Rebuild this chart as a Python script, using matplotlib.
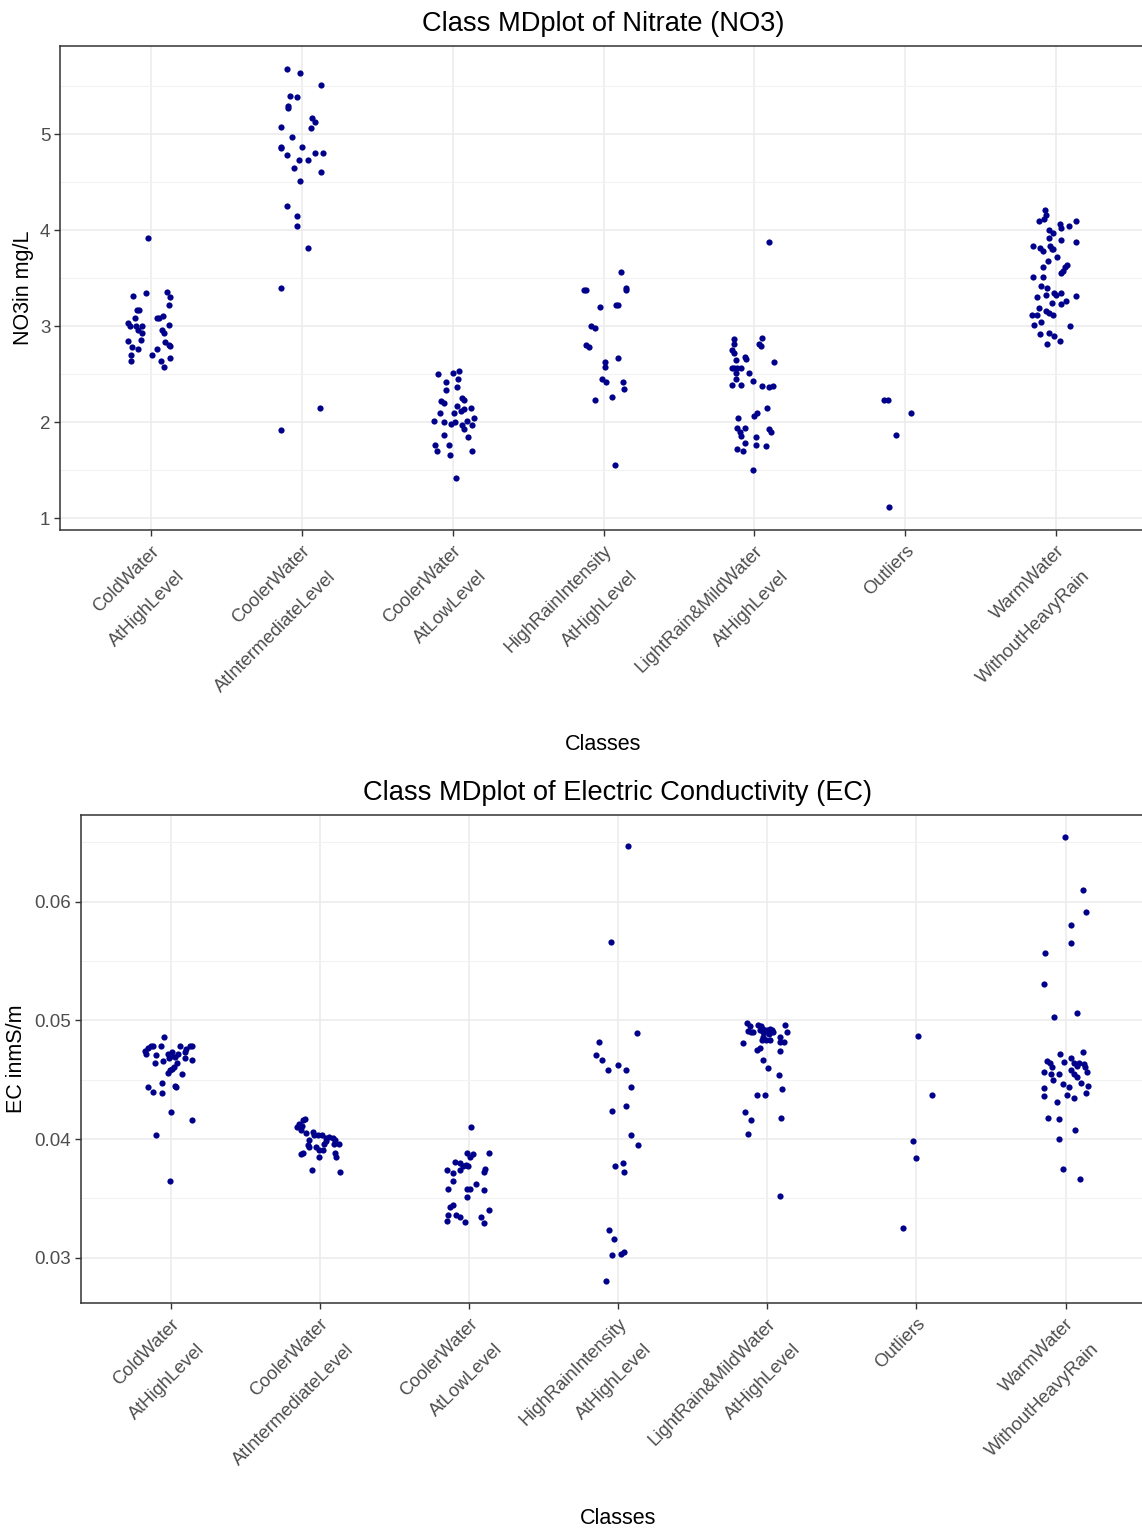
import matplotlib
matplotlib.use("Agg")
from matplotlib import pyplot as plt
from matplotlib.ticker import MultipleLocator

plt.rcParams["font.family"] = ["Liberation Sans", "DejaVu Sans"]

# Class names (x axis, both panels)
classes = ["ColdWater\nAtHighLevel", "CoolerWater\nAtIntermediateLevel",
           "CoolerWater\nAtLowLevel", "HighRainIntensity\nAtHighLevel",
           "LightRain&MildWater\nAtHighLevel", "Outliers",
           "WarmWater\nWithoutHeavyRain"]

# ---- Nitrate (NO3) in mg/L, with horizontal jitter ----
no3_cold_high = [3.92, 3.31, 3.34, 3.35, 3.30, 3.22, 3.17, 3.17, 3.08, 3.08, 3.08, 3.10,
                 3.03, 3.00, 3.00, 3.00, 2.96, 2.93, 2.96, 2.93, 3.01, 2.84, 2.85, 2.78,
                 2.76, 2.76, 2.83, 2.80, 2.79, 2.70, 2.70, 2.64, 2.64, 2.67, 2.57]
no3_cold_high_jit = [-0.02, -0.117, -0.03, 0.11, 0.13, 0.12, -0.09, -0.08, -0.106, 0.04, 0.053, 0.08,
                     -0.15, -0.137, -0.097, -0.06, -0.084, -0.058, 0.075, 0.088, 0.12, -0.15, -0.066, -0.126,
                     -0.086, 0.04, 0.097, 0.12, 0.13, -0.128, 0.011, -0.128, 0.07, 0.13, 0.09]

no3_cooler_mid = [5.68, 5.64, 5.51, 5.40, 5.39, 5.29, 5.27, 5.17, 5.13, 5.06, 5.07, 4.97,
                  4.87, 4.85, 4.87, 4.78, 4.73, 4.73, 4.80, 4.80, 4.65, 4.60, 4.51, 4.25,
                  4.15, 4.04, 3.81, 3.40, 2.15, 1.92]
no3_cooler_mid_jit = [-0.097, -0.009, 0.132, -0.079, -0.029, -0.088, -0.088, 0.071, 0.09, 0.062, -0.139, -0.06,
                      -0.139, -0.139, 0.002, -0.097, -0.02, 0.04, 0.09, 0.141, -0.048, 0.132, -0.009, -0.097,
                      -0.029, -0.029, 0.04, -0.139, 0.121, -0.139]

no3_cooler_low = [2.50, 2.51, 2.42, 2.33, 2.45, 2.36, 2.22, 2.20, 2.17, 2.09, 2.09, 2.01,
                  2.00, 1.98, 2.00, 1.86, 1.76, 1.70, 1.76, 1.66, 1.42, 2.53, 2.25, 2.23,
                  2.14, 2.15, 2.11, 2.01, 2.04, 1.97, 1.93, 1.97, 1.84, 1.70]
no3_cooler_low_jit = [-0.095, 0.005, -0.046, -0.046, 0.035, 0.031, -0.075, -0.055, 0.028, -0.086, 0.013, -0.126,
                      -0.055, -0.011, 0.015, -0.055, -0.114, -0.106, -0.026, -0.015, 0.022, 0.046, 0.066, 0.079,
                      0.073, 0.124, 0.057, 0.095, 0.144, 0.064, 0.079, 0.131, 0.101, 0.132]

no3_rain_high = [3.37, 3.38, 3.56, 3.40, 3.37, 3.20, 3.22, 3.22, 3.00, 2.98, 2.80, 2.78,
                 2.62, 2.57, 2.67, 2.45, 2.42, 2.42, 2.34, 2.23, 2.26, 1.55]
no3_rain_high_jit = [-0.126, -0.113, 0.117, 0.146, 0.146, -0.022, 0.084, 0.097, -0.084, -0.053, -0.115, -0.093,
                     0.007, 0.007, 0.097, -0.013, 0.018, 0.126, 0.137, -0.053, 0.057, 0.077]

no3_light_high = [3.87, 2.86, 2.81, 2.88, 2.81, 2.79, 2.75, 2.72, 2.65, 2.68, 2.66, 2.62,
                  2.56, 2.56, 2.56, 2.56, 2.51, 2.45, 2.51, 2.43, 2.39, 2.39, 2.37, 2.36,
                  2.37, 2.04, 2.06, 2.09, 2.15, 1.94, 1.90, 1.94, 1.85, 1.93, 1.90, 1.84,
                  1.78, 1.72, 1.70, 1.76, 1.75, 1.50]
no3_light_high_jit = [0.093, -0.134, -0.134, 0.051, 0.031, 0.044, -0.148, -0.134, -0.124, -0.062, -0.055, 0.132,
                      -0.152, -0.134, -0.115, -0.091, -0.124, -0.124, -0.035, -0.007, -0.148, -0.088, 0.051, 0.093,
                      0.121, -0.106, 0.0, 0.02, 0.082, -0.115, -0.097, -0.066, -0.088, 0.093, 0.11, 0.013,
                      -0.066, -0.115, -0.075, 0.013, 0.075, -0.007]

no3_outliers = [2.23, 2.23, 2.09, 1.86, 1.11]
no3_outliers_jit = [-0.141, -0.113, 0.035, -0.064, -0.106]

no3_warm = [4.21, 4.16, 4.11, 4.09, 4.09, 4.06, 4.02, 4.04, 4.00, 3.97, 3.92, 3.90,
            3.87, 3.83, 3.81, 3.78, 3.83, 3.80, 3.80, 3.72, 3.68, 3.64, 3.61, 3.57,
            3.55, 3.61, 3.51, 3.51, 3.42, 3.40, 3.30, 3.32, 3.34, 3.32, 3.34, 3.24,
            3.23, 3.26, 3.31, 3.19, 3.16, 3.14, 3.11, 3.11, 3.11, 3.01, 3.04, 3.00,
            2.92, 2.93, 2.90, 2.81, 2.84]
no3_warm_jit = [-0.077, -0.071, -0.082, -0.117, 0.132, 0.024, 0.029, 0.082, -0.051, -0.024, -0.051, 0.033,
                0.13, -0.157, -0.108, -0.088, -0.044, -0.031, -0.02, 0.002, -0.057, 0.073, 0.06, 0.042,
                0.033, -0.086, -0.157, -0.086, -0.099, -0.06, -0.128, -0.068, -0.015, -0.002, 0.033, -0.029,
                0.033, 0.062, 0.13, -0.117, -0.066, -0.046, -0.02, -0.159, -0.13, -0.148, -0.099, 0.093,
                -0.108, -0.046, -0.015, -0.06, 0.022]

# ---- Electric conductivity (EC) in mS/m ----
ec_cold_high = [0.0486, 0.0474, 0.0472, 0.0477, 0.0478, 0.0478, 0.0471, 0.0478, 0.0472, 0.0470, 0.0473, 0.0468,
                0.0469, 0.0472, 0.0478, 0.0473, 0.0476, 0.0478, 0.0478, 0.0468, 0.0467, 0.0464, 0.0466, 0.0464,
                0.0461, 0.0459, 0.0456, 0.0458, 0.0455, 0.0447, 0.0444, 0.0440, 0.0439, 0.0445, 0.0444, 0.0423,
                0.0416, 0.0403, 0.0365]
ec_cold_high_jit = [-0.045, -0.17, -0.161, -0.15, -0.132, -0.117, -0.099, -0.067, -0.018, 0.0, 0.011, -0.009,
                    0.031, 0.051, 0.067, 0.094, 0.107, 0.147, 0.134, 0.094, 0.141, -0.107, -0.047, 0.044,
                    0.022, 0.009, -0.02, -0.005, 0.076, -0.056, -0.15, -0.117, -0.056, 0.027, 0.04, 0.004,
                    0.147, -0.099, -0.005]

ec_cooler_mid = [0.0417, 0.0416, 0.0413, 0.0410, 0.0408, 0.0411, 0.0405, 0.0406, 0.0403, 0.0403, 0.0403, 0.0401,
                 0.0402, 0.0401, 0.0399, 0.0396, 0.0396, 0.0398, 0.0396, 0.0399, 0.0395, 0.0393, 0.0393, 0.0391,
                 0.0391, 0.0388, 0.0385, 0.0385, 0.0388, 0.0387, 0.0374, 0.0372]
ec_cooler_mid_jit = [-0.096, -0.114, -0.136, -0.154, -0.125, -0.118, -0.091, -0.047, -0.036, -0.013, 0.016, 0.043,
                     0.06, 0.087, 0.105, 0.127, 0.099, 0.043, 0.032, -0.069, -0.08, -0.074, -0.024, -0.007,
                     0.025, 0.105, 0.11, -0.007, -0.109, -0.125, -0.054, 0.139]

ec_cooler_low = [0.0410, 0.0388, 0.0387, 0.0385, 0.0388, 0.0381, 0.0380, 0.0377, 0.0378, 0.0377, 0.0374, 0.0371,
                 0.0365, 0.0374, 0.0375, 0.0372, 0.0358, 0.0358, 0.0358, 0.0362, 0.0357, 0.0351, 0.0343, 0.0344,
                 0.0336, 0.0336, 0.0334, 0.0331, 0.0330, 0.0334, 0.0340, 0.0329]
ec_cooler_low_jit = [0.013, -0.015, 0.029, 0.007, 0.136, -0.094, -0.06, -0.038, -0.02, -0.005, -0.149, -0.109,
                     -0.109, -0.06, 0.107, 0.1, -0.138, -0.015, 0.007, 0.047, 0.105, -0.009, -0.127, -0.109,
                     -0.138, -0.083, -0.06, -0.149, -0.027, 0.082, 0.136, 0.105]

ec_rain_high = [0.0647, 0.0566, 0.0489, 0.0482, 0.0471, 0.0467, 0.0458, 0.0462, 0.0458, 0.0444, 0.0428, 0.0424,
                0.0403, 0.0395, 0.0380, 0.0377, 0.0372, 0.0323, 0.0316, 0.0302, 0.0303, 0.0305, 0.0280]
ec_rain_high_jit = [0.065, -0.049, 0.125, -0.127, -0.149, -0.109, -0.067, 0.002, 0.054, 0.085, 0.054, -0.038,
                    0.085, 0.136, 0.034, -0.02, 0.042, -0.06, -0.027, -0.038, 0.022, 0.042, -0.08]

ec_light_high = [0.04975, 0.0495, 0.0496, 0.0495, 0.0493, 0.0492, 0.0493, 0.0492, 0.0496, 0.0491, 0.0490, 0.0490,
                 0.0492, 0.0490, 0.0490, 0.04885, 0.0490, 0.0486, 0.04835, 0.04835, 0.04835, 0.0486, 0.0490, 0.0482,
                 0.0482, 0.0481, 0.0477, 0.0475, 0.0474, 0.0467, 0.0460, 0.0454, 0.0442, 0.0437, 0.0437, 0.0423,
                 0.0416, 0.0418, 0.0404, 0.0352]
ec_light_high_jit = [-0.136, -0.118, -0.06, -0.042, -0.025, -0.002, 0.02, 0.031, 0.118, -0.13, -0.11, -0.092,
                     -0.047, -0.031, -0.011, 0.009, 0.042, -0.025, -0.036, -0.007, 0.02, 0.087, 0.132, 0.116,
                     0.087, -0.159, -0.047, -0.065, 0.087, -0.025, 0.004, 0.076, 0.098, -0.065, -0.016, -0.147,
                     -0.107, 0.096, -0.127, 0.087]

ec_outliers = [0.0487, 0.0437, 0.0398, 0.0384, 0.0325]
ec_outliers_jit = [0.011, 0.103, -0.02, 0.0, -0.091]

ec_warm = [0.06545, 0.0610, 0.0591, 0.0580, 0.0565, 0.0557, 0.0531, 0.0506, 0.0503, 0.0473, 0.0472, 0.0465,
           0.0468, 0.0466, 0.0464, 0.0461, 0.04565, 0.0455, 0.0455, 0.0464, 0.04615, 0.0464, 0.0463, 0.0461,
           0.0458, 0.0455, 0.04565, 0.0450, 0.0446, 0.0444, 0.0452, 0.04475, 0.0443, 0.0436, 0.0445, 0.0439,
           0.0437, 0.0435, 0.0431, 0.0418, 0.0417, 0.0408, 0.0400, 0.0375, 0.0366]
ec_warm_jit = [-0.004, 0.118, 0.138, 0.036, 0.036, -0.136, -0.147, 0.076, -0.076, 0.118, -0.036, -0.011,
               0.036, -0.123, -0.105, -0.089, -0.147, -0.096, -0.045, 0.056, 0.078, 0.089, 0.123, 0.134,
               0.038, 0.056, 0.141, -0.083, -0.016, 0.022, 0.078, 0.105, -0.147, -0.147, 0.149, 0.138,
               0.011, 0.056, -0.056, -0.116, -0.045, 0.067, -0.045, -0.016, 0.096]

no3_groups = [(no3_cold_high, no3_cold_high_jit), (no3_cooler_mid, no3_cooler_mid_jit),
              (no3_cooler_low, no3_cooler_low_jit), (no3_rain_high, no3_rain_high_jit),
              (no3_light_high, no3_light_high_jit), (no3_outliers, no3_outliers_jit),
              (no3_warm, no3_warm_jit)]
ec_groups = [(ec_cold_high, ec_cold_high_jit), (ec_cooler_mid, ec_cooler_mid_jit),
             (ec_cooler_low, ec_cooler_low_jit), (ec_rain_high, ec_rain_high_jit),
             (ec_light_high, ec_light_high_jit), (ec_outliers, ec_outliers_jit),
             (ec_warm, ec_warm_jit)]

W, H = 1142, 1530
fig = plt.figure(figsize=(W / 100, H / 100), dpi=100)


def px_axes(left, top, right, bottom):
    return fig.add_axes([left / W, 1 - bottom / H, (right - left) / W, (bottom - top) / H])


def md_panel(ax, groups, title, ylabel, ylim, major, minor, fmt, ylab_x):
    for i, (vals, jit) in enumerate(groups):
        xs = [i + 1 + j for j in jit]
        ax.scatter(xs, vals, s=20, c="#00008B", linewidths=0, zorder=3)
    ax.set_xlim(0.4, 7.6)
    ax.set_ylim(*ylim)
    ax.set_xticks(range(1, 8))
    ax.set_xticklabels(classes, rotation=45, ha="right", rotation_mode="anchor",
                       linespacing=2.45, fontsize=13.2, color="#4D4D4D")
    ax.yaxis.set_major_locator(MultipleLocator(major))
    ax.yaxis.set_minor_locator(MultipleLocator(minor))
    ax.yaxis.set_major_formatter(fmt)
    ax.tick_params(axis="y", which="major", labelsize=13.5, labelcolor="#4D4D4D",
                   length=4, width=1, color="#333333", pad=3)
    ax.tick_params(axis="x", which="major", length=4, width=1, color="#333333", pad=5)
    ax.tick_params(axis="y", which="minor", length=0)
    ax.grid(True, which="major", color="#EBEBEB", linewidth=1.1, zorder=0)
    ax.grid(True, which="minor", axis="y", color="#F2F2F2", linewidth=0.8, zorder=0)
    ax.set_axisbelow(True)
    for sp in ax.spines.values():
        sp.set_color("#333333")
        sp.set_linewidth(1.1)
    ax.set_title(title, fontsize=19.6, pad=10.5)
    ax.set_xlabel("Classes", fontsize=15.5)
    ax.set_ylabel(ylabel, fontsize=15.5)
    ax.yaxis.set_label_coords(ylab_x, 0.5)
    ax.yaxis.label.set_va("center")


ax1 = px_axes(60, 46, 1147, 530)
md_panel(ax1, no3_groups, "Class MDplot of Nitrate (NO3)", "NO3in mg/L",
         (0.875, 5.917), 1, 0.5, "{x:.0f}", (23 - 60) / 1087)
ax1.xaxis.set_label_coords(0.5, -(745 - 530) / 484)
ax1.xaxis.label.set_va("center")

ax2 = px_axes(81, 815, 1155, 1303)
md_panel(ax2, ec_groups, "Class MDplot of Electric Conductivity (EC)", "EC inmS/m",
         (0.02618, 0.06731), 0.01, 0.005, "{x:.2f}", (17 - 81) / 1074)
ax2.xaxis.set_label_coords(0.5, -(1519 - 1303) / 488)
ax2.xaxis.label.set_va("center")

fig.savefig("out.png", dpi=100)
